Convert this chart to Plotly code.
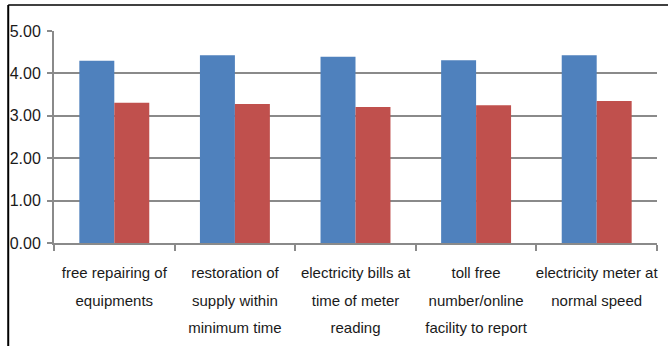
import plotly.graph_objects as go

# Service aspects rated by respondents (one list entry per category, lines split)
category_lines = [
    ["free repairing of", "equipments"],
    ["restoration of", "supply within", "minimum time"],
    ["electricity bills at", "time of meter", "reading"],
    ["toll free", "number/online", "facility to report"],
    ["electricity meter at", "normal speed"],
]
expectation = [4.30, 4.43, 4.39, 4.31, 4.43]
perception = [3.31, 3.28, 3.21, 3.25, 3.35]

FONT = "Liberation Sans, Arial, sans-serif"
GRID = "#8a8a8a"
LABEL_PX = 15

# Small glyphs on a taller line pitch for the category labels
categories = [
    "<br>".join(f'<span style="font-size:{LABEL_PX}px">{ln}</span>' for ln in lines)
    for lines in category_lines
]

fig = go.Figure()
fig.add_trace(go.Bar(x=categories, y=expectation, marker_color="#4F81BD",
                     marker_line_width=0, name="Expectation"))
fig.add_trace(go.Bar(x=categories, y=perception, marker_color="#C0504D",
                     marker_line_width=0, name="Perception"))

W, H = 668, 346
ml, mr, mt, mb = 52, 10, 31, 103
pw, ph = W - ml - mr, H - mt - mb

fig.update_layout(
    width=W, height=H,
    margin=dict(l=ml, r=mr, t=mt, b=mb),
    barmode="group", bargap=0.42, bargroupgap=0,
    showlegend=False,
    plot_bgcolor="white", paper_bgcolor="white",
    font=dict(family=FONT, size=16, color="#1a1a1a"),
    xaxis=dict(
        showline=True, linecolor=GRID, linewidth=2,
        ticks="outside", tickson="boundaries", ticklen=6, tickwidth=1.5, tickcolor=GRID,
        tickfont=dict(family=FONT, size=21),
        tickangle=0, ticklabelstandoff=8,
    ),
    yaxis=dict(
        range=[0, 5], dtick=1, tickformat=".2f",
        showline=True, linecolor=GRID, linewidth=2,
        ticks="outside", ticklen=5, tickwidth=1.5, tickcolor=GRID,
        showgrid=True, gridcolor=GRID, gridwidth=2,
        zeroline=False,
        tickfont=dict(family=FONT, size=16),
        ticklabelstandoff=3,
    ),
)

# Frame lines along the left and top edges of the page
left_x = (6 - ml) / pw
top_y = 1 + (mt - 5) / ph
fig.add_shape(type="line", xref="paper", yref="paper",
              x0=left_x, x1=left_x, y0=-(mb + 5) / ph, y1=top_y,
              line=dict(color="black", width=2))
fig.add_shape(type="line", xref="paper", yref="paper",
              x0=left_x, x1=1 + (mr + 5) / pw, y0=top_y, y1=top_y,
              line=dict(color="black", width=1.5))

fig.write_html("out.html")
